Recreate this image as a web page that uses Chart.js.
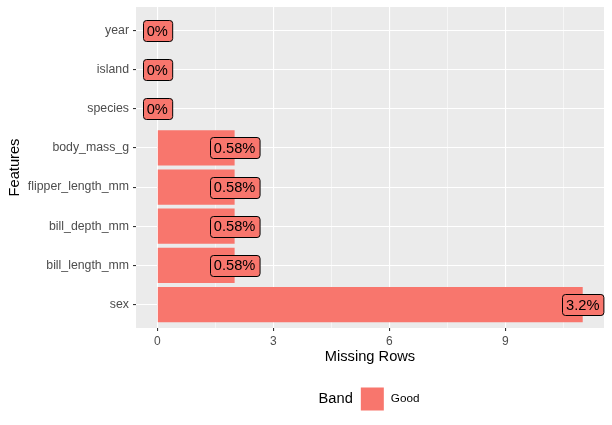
<!DOCTYPE html>
<html>
<head>
<meta charset="utf-8">
<script src="https://cdn.jsdelivr.net/npm/chart.js@4"></script>
<style>
  body { margin: 0; background: #fff; }
  #chart { display: block; }
</style>
</head>
<body>
<canvas id="chart" width="612" height="425"></canvas>
<script>
// data
const features = ['year', 'island', 'species', 'body_mass_g', 'flipper_length_mm', 'bill_depth_mm', 'bill_length_mm', 'sex'];
const missingRows = [0, 0, 0, 2, 2, 2, 2, 11];
const missingPct = ['0%', '0%', '0%', '0.58%', '0.58%', '0.58%', '0.58%', '3.2%'];
const xMajorTicks = [0, 3, 6, 9];
const xMinorTicks = [1.5, 4.5, 7.5, 10.5];
const bandName = 'Good';

const FILL = '#F8766D';
const FONT = "'Liberation Sans', Arial, sans-serif";

// grey panel behind the plot
const panelBg = {
  id: 'panelBg',
  beforeDraw(chart) {
    const { ctx, chartArea: a } = chart;
    ctx.save();
    ctx.fillStyle = '#EBEBEB';
    ctx.fillRect(a.left, a.top, a.right - a.left, a.bottom - a.top);
    ctx.restore();
  }
};

// ggplot-style geom_label at the end of each bar
function roundRect(ctx, x, y, w, h, r) {
  ctx.beginPath();
  ctx.moveTo(x + r, y);
  ctx.lineTo(x + w - r, y);
  ctx.arcTo(x + w, y, x + w, y + r, r);
  ctx.lineTo(x + w, y + h - r);
  ctx.arcTo(x + w, y + h, x + w - r, y + h, r);
  ctx.lineTo(x + r, y + h);
  ctx.arcTo(x, y + h, x, y + h - r, r);
  ctx.lineTo(x, y + r);
  ctx.arcTo(x, y, x + r, y, r);
  ctx.closePath();
}

const barLabels = {
  id: 'barLabels',
  afterDatasetsDraw(chart) {
    const { ctx } = chart;
    const meta = chart.getDatasetMeta(0);
    ctx.save();
    ctx.font = '14.67px ' + FONT;
    ctx.textAlign = 'center';
    ctx.textBaseline = 'middle';
    meta.data.forEach((bar, i) => {
      const txt = missingPct[i];
      const w = ctx.measureText(txt).width + 8;
      const h = 21;
      const x = Math.round(bar.x - w / 2) + 0.5;
      const y = Math.round(bar.y - h / 2) + 0.5;
      roundRect(ctx, x, y, w, h, 3);
      ctx.fillStyle = FILL;
      ctx.fill();
      ctx.lineWidth = 1;
      ctx.strokeStyle = '#000';
      ctx.stroke();
      ctx.fillStyle = '#000';
      ctx.fillText(txt, bar.x, bar.y + 1);
    });
    ctx.restore();
  }
};

// legend at the bottom: "Band" [box] Good
const bandLegend = {
  id: 'bandLegend',
  afterDraw(chart) {
    const { ctx, chartArea: a } = chart;
    ctx.save();
    ctx.textBaseline = 'middle';
    ctx.font = '14.67px ' + FONT;
    const wTitle = ctx.measureText('Band').width;
    ctx.font = '11.7px ' + FONT;
    const wItem = ctx.measureText(bandName).width;
    const total = wTitle + 8 + 23 + 7 + wItem;
    const cy = 399;
    let x = (a.left + a.right) / 2 - total / 2 - 1;
    ctx.fillStyle = '#000';
    ctx.font = '14.67px ' + FONT;
    ctx.fillText('Band', x, cy);
    x += wTitle + 8;
    ctx.fillStyle = FILL;
    ctx.fillRect(x, cy - 11.5, 23, 23);
    x += 23 + 7;
    ctx.fillStyle = '#000';
    ctx.font = '11.7px ' + FONT;
    ctx.fillText(bandName, x, cy);
    ctx.restore();
  }
};

new Chart(document.getElementById('chart'), {
  type: 'bar',
  data: {
    datasets: [{
      label: bandName,
      data: missingRows.map((v, i) => ({ x: v, y: i })),
      backgroundColor: FILL,
      borderWidth: 0,
      barPercentage: 0.9,
      categoryPercentage: 1.0
    }]
  },
  options: {
    indexAxis: 'y',
    responsive: false,
    animation: false,
    devicePixelRatio: 1,
    layout: { padding: { top: 7, right: 8, bottom: 57, left: 0 } },
    plugins: {
      legend: { display: false },
      tooltip: { enabled: false }
    },
    scales: {
      x: {
        type: 'linear',
        min: -0.55,
        max: 11.55,
        offset: false,
        afterBuildTicks: s => { s.ticks = xMajorTicks.concat(xMinorTicks).sort((a, b) => a - b).map(v => ({ value: v })); },
        afterFit: s => { s.height = 40; },
        border: { display: false },
        grid: {
          offset: false,
          color: '#FFFFFF',
          lineWidth: c => xMajorTicks.includes(c.tick.value) ? 1.1 : 0.55,
          tickColor: c => xMajorTicks.includes(c.tick.value) ? '#333333' : 'rgba(0,0,0,0)',
          tickLength: 3,
          tickWidth: 1.1
        },
        ticks: {
          autoSkip: false,
          maxRotation: 0,
          padding: 3,
          color: '#4D4D4D',
          font: { family: FONT, size: 12 },
          callback: v => xMajorTicks.includes(v) ? String(v) : ''
        },
        title: {
          display: true,
          text: 'Missing Rows',
          color: '#000',
          font: { family: FONT, size: 14.67 },
          padding: { top: 0, bottom: 2 }
        }
      },
      y: {
        type: 'linear',
        reverse: true,
        min: -0.6,
        max: 7.6,
        offset: false,
        afterBuildTicks: s => { s.ticks = features.map((f, i) => ({ value: i })); },
        afterFit: s => { s.width = 136; s.paddingTop = 0; s.paddingBottom = 0; },
        border: { display: false },
        grid: {
          offset: false,
          color: '#FFFFFF',
          lineWidth: 1.1,
          tickColor: '#333333',
          tickLength: 3,
          tickWidth: 1.1
        },
        ticks: {
          autoSkip: false,
          padding: 4,
          color: '#4D4D4D',
          font: { family: FONT, size: 12.3 },
          callback: v => features[v]
        },
        title: {
          display: true,
          text: 'Features',
          color: '#000',
          font: { family: FONT, size: 14.67 },
          padding: { top: 6, bottom: 0 }
        }
      }
    }
  },
  plugins: [panelBg, barLabels, bandLegend]
});
</script>
</body>
</html>
